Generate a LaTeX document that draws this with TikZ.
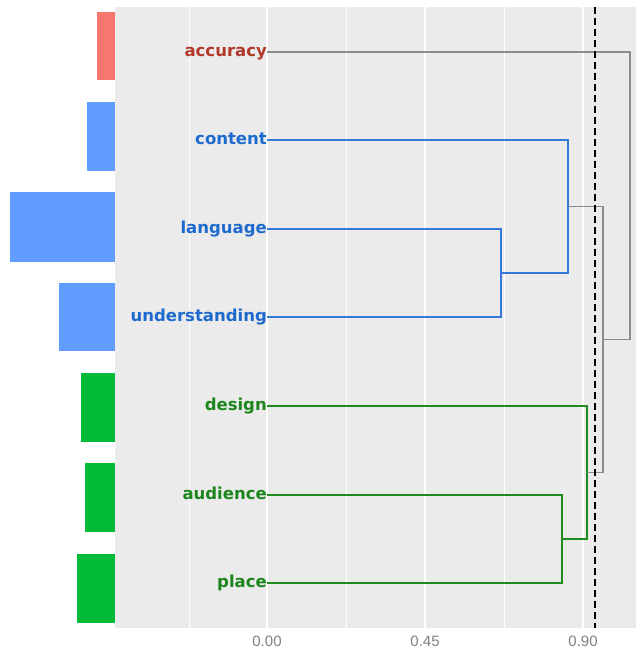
\documentclass[tikz,border=0pt]{standalone}
\usepackage{fontspec}
\setmainfont{DejaVu Sans}
\newfontfamily\tickfont{Liberation Sans}
\usetikzlibrary{positioning}

\definecolor{panelgray}{HTML}{EBEBEB}
\definecolor{barred}{HTML}{F8766D}
\definecolor{barblue}{HTML}{619CFF}
\definecolor{bargreen}{HTML}{00BA38}
\definecolor{txtred}{HTML}{B2382A}
\definecolor{txtblue}{HTML}{1E6BD0}
\definecolor{txtgreen}{HTML}{1C861C}
\definecolor{lnblue}{HTML}{3478DA}
\definecolor{lngreen}{HTML}{1F8A1F}
\definecolor{lngray}{HTML}{8C8C8C}
\definecolor{tickgray}{HTML}{7F7F7F}

\begin{document}
\begin{tikzpicture}[
    x=1pt, y=-1pt,
    leaf/.style={anchor=east, inner sep=0pt, font=\fontsize{16.5}{18}\selectfont\bfseries, text height=9pt, text depth=0pt},
    branch/.style={line width=1.8pt, line join=miter},
    blueline/.style={branch, draw=lnblue},
    greenline/.style={branch, draw=lngreen},
    grayline/.style={branch, draw=lngray},
    major/.style={draw=white, line width=1.5pt},
    minor/.style={draw=white, line width=0.8pt},
    ticklabel/.style={font=\tickfont\fontsize{15}{17}\selectfont, text=tickgray, inner sep=0pt}
  ]
  \useasboundingbox (0,0) rectangle (636,652);

  % Panel and grid
  \fill[panelgray] (115,7) rectangle (636,628);
  \draw[minor] (189,7) -- (189,628);
  \draw[minor] (346,7) -- (346,628);
  \draw[minor] (504,7) -- (504,628);
  \draw[major] (267,7) -- (267,628);
  \draw[major] (425,7) -- (425,628);
  \draw[major] (583,7) -- (583,628);

  % Side bars
  \fill[barred]   (97,12)  rectangle (115,80);
  \fill[barblue]  (87,102) rectangle (115,171);
  \fill[barblue]  (10,192) rectangle (115,262);
  \fill[barblue]  (59,283) rectangle (115,351);
  \fill[bargreen] (81,373) rectangle (115,442);
  \fill[bargreen] (85,463) rectangle (115,532);
  \fill[bargreen] (77,554) rectangle (115,623);

  % Leaves
  \node (acc) [leaf, text=txtred]   at (267,52)  {accuracy};
  \node (con) [leaf, text=txtblue]  at (267,140) {content};
  \node (lan) [leaf, text=txtblue]  at (267,229) {language};
  \node (und) [leaf, text=txtblue]  at (267,317) {understanding};
  \node (des) [leaf, text=txtgreen] at (267,406) {design};
  \node (aud) [leaf, text=txtgreen] at (267,495) {audience};
  \node (pla) [leaf, text=txtgreen] at (267,583) {place};

  % Merge points
  \coordinate (lu)   at (501,273);
  \coordinate (clu)  at (567.7,206.5);
  \coordinate (ap)   at (562.3,539);
  \coordinate (dap)  at (586.7,472.5);
  \coordinate (bg)   at (602.7,339.5);
  \coordinate (root) at (630,195.5);

  % Blue cluster
  \draw[blueline] (lan.east) -| (lu) |- (und.east);
  \draw[blueline] (con.east) -| (clu) |- (lu);

  % Green cluster
  \draw[greenline] (aud.east) -| (ap) |- (pla.east);
  \draw[greenline] (des.east) -| (dap) |- (ap);

  % Upper joins
  \draw[grayline] (clu) -| (bg) |- (dap);
  \draw[grayline] (acc.east) -| (root) |- (bg);

  % Cut height
  \draw[black, line width=2pt, dash pattern=on 7pt off 4pt] (594.7,7) -- (594.7,628);

  % Axis labels
  \node (t0)  [ticklabel] at (267,641) {0.00};
  \node (t45) [ticklabel] at (425,641) {0.45};
  \node (t90) [ticklabel] at (583,641) {0.90};
\end{tikzpicture}
\end{document}
